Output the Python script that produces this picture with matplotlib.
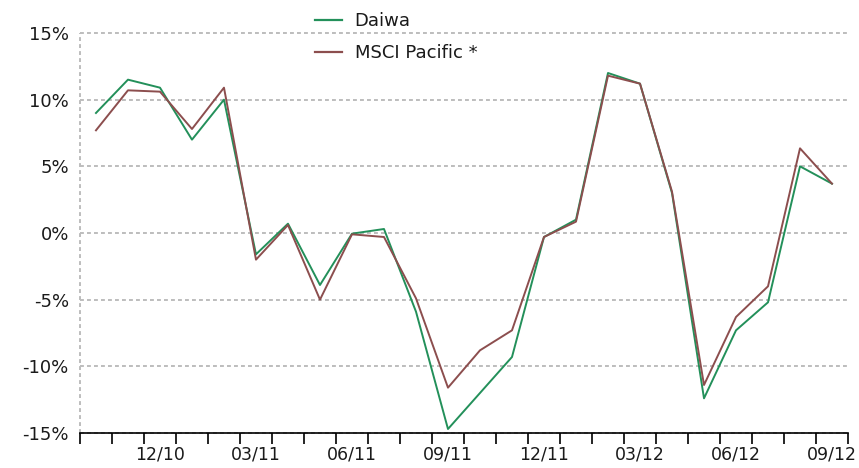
import matplotlib
matplotlib.use("Agg")
import matplotlib.pyplot as plt
from matplotlib.ticker import FixedLocator, FuncFormatter

# Monthly returns, Oct 2010 - Sep 2012
months = ["10/10", "11/10", "12/10", "01/11", "02/11", "03/11", "04/11", "05/11",
          "06/11", "07/11", "08/11", "09/11", "10/11", "11/11", "12/11", "01/12",
          "02/12", "03/12", "04/12", "05/12", "06/12", "07/12", "08/12", "09/12"]
daiwa = [9.0, 11.5, 10.9, 7.0, 10.0, -1.6, 0.7, -3.9, -0.05, 0.3, -5.9, -14.7,
         -12.0, -9.3, -0.3, 1.0, 12.0, 11.2, 3.0, -12.4, -7.3, -5.2, 5.0, 3.7]
msci = [7.7, 10.7, 10.6, 7.8, 10.9, -2.0, 0.6, -5.0, -0.1, -0.3, -4.9, -11.6,
        -8.8, -7.3, -0.3, 0.85, 11.8, 11.2, 3.1, -11.4, -6.3, -4.0, 6.35, 3.7]
label_every = 3
y_ticks = [-15, -10, -5, 0, 5, 10, 15]

GREEN = "#23905a"
RED = "#8c4e4e"
GRID = "#bdbdbd"
FONT = "DejaVu Sans"

plt.rcParams["font.family"] = [FONT]

fig = plt.figure(figsize=(8.59, 4.68), dpi=100)
ax = fig.add_axes([0.0931, 0.0748, 0.8941, 0.8547])

x = list(range(len(months)))
ax.plot(x, daiwa, color=GREEN, lw=1.4, label="Daiwa", zorder=3)
ax.plot(x, msci, color=RED, lw=1.4, label="MSCI Pacific *", zorder=3)

ax.set_xlim(-0.5, len(months) - 0.5)
ax.set_ylim(-15, 15)

# horizontal grid
for yv in y_ticks:
    ax.axhline(yv, color=GRID, lw=1.4, ls=(0, (2.0, 1.6)), zorder=1, clip_on=False)
# dotted left edge
ax.axvline(-0.5, color=GRID, lw=1.4, ls=(0, (2.0, 1.6)), zorder=1, clip_on=False)

for side in ("left", "right", "top"):
    ax.spines[side].set_visible(False)
ax.spines["bottom"].set_color("black")
ax.spines["bottom"].set_linewidth(1.2)
ax.spines["bottom"].set_zorder(4)

# y axis
ax.set_yticks(y_ticks)
ax.yaxis.set_major_formatter(FuncFormatter(lambda v, p: f"{int(v)}%"))
ax.tick_params(axis="y", length=0, pad=8, labelsize=13, labelcolor="#1a1a1a")

# x axis: ticks at month boundaries, labels centred every third month
label_pos = [i for i in x if (i - 2) % label_every == 0]
ax.xaxis.set_major_locator(FixedLocator(label_pos))
ax.set_xticklabels([months[i] for i in label_pos])
ax.xaxis.set_minor_locator(FixedLocator([i - 0.5 for i in range(len(months) + 1)]))
ax.tick_params(axis="x", which="major", length=0, pad=9, labelsize=12.5,
               labelcolor="#1a1a1a")
ax.tick_params(axis="x", which="minor", length=8, width=1.2, color="black",
               direction="out")

leg = ax.legend(loc="upper left", bbox_to_anchor=(315 / 859, 1 - 12 / 468),
                bbox_transform=fig.transFigure, frameon=False, fontsize=13,
                handlelength=1.5, handletextpad=0.7, labelspacing=0.8,
                borderpad=0, borderaxespad=0)
for line in leg.get_lines():
    line.set_linewidth(1.6)
for t in leg.get_texts():
    t.set_color("#1a1a1a")

fig.savefig("out.png", dpi=100)
